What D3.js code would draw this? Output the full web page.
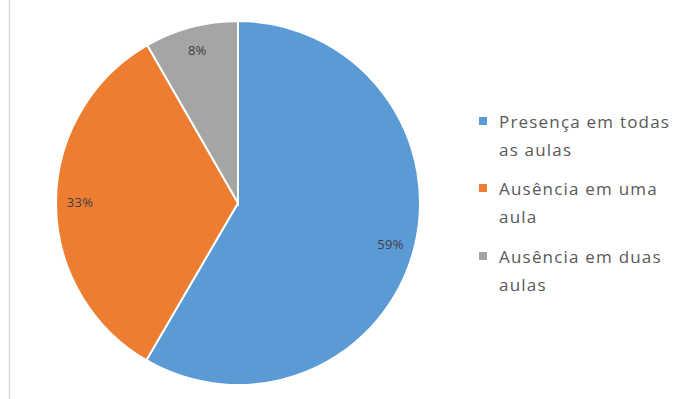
<!DOCTYPE html>
<html lang="en">
<head>
    <meta charset="UTF-8">
    <title>pie</title>
    <script src="https://d3js.org/d3.v7.min.js"></script>
    <style>
        body { margin: 0; background: #fff; }
        text { font-family: 'Open Sans', sans-serif; }
    </style>
</head>
<body>
<div id="chart"></div>
<script>
    // dados
    let categories = ["Presença em todas as aulas", "Ausência em uma aula", "Ausência em duas aulas"];
    let values = [58.4, 33.3, 8.3];
    let labels = ["59%", "33%", "8%"];
    let legendLines = [["Presença em todas", "as aulas"], ["Ausência em uma", "aula"], ["Ausência em duas", "aulas"]];
    let colors = ["#5b9bd5", "#ed7d31", "#a5a5a5"];

    let width = 678, height = 399;
    let cx = 238, cy = 203, radius = 182;

    let svg = d3.select("#chart").append("svg")
        .attr("width", width)
        .attr("height", height);

    // borda esquerda
    svg.append("line")
        .attr("x1", 9.5).attr("x2", 9.5)
        .attr("y1", 0).attr("y2", height)
        .attr("stroke", "#dcdcdc")
        .attr("stroke-width", 1.5);

    let colorScale = d3.scaleOrdinal().domain(categories).range(colors);

    let pie = d3.pie().sort(null).value(d => d.value);
    let data = categories.map((c, i) => ({ name: c, value: values[i], label: labels[i] }));

    let arc = d3.arc().innerRadius(0).outerRadius(radius);
    let labelArc = d3.arc().innerRadius(158).outerRadius(158);

    let g = svg.append("g").attr("transform", "translate(" + cx + "," + cy + ")");

    let slices = g.selectAll(".arc")
        .data(pie(data))
        .enter().append("g")
        .attr("class", "arc");

    slices.append("path")
        .attr("d", arc)
        .attr("fill", d => colorScale(d.data.name))
        .attr("stroke", "#fff")
        .attr("stroke-width", 2);

    slices.append("text")
        .attr("transform", d => "translate(" + labelArc.centroid(d) + ")")
        .attr("text-anchor", "middle")
        .attr("dy", "0.35em")
        .attr("font-size", 13)
        .attr("letter-spacing", 0.3)
        .attr("fill", "#404040")
        .text(d => d.data.label);

    // legenda
    let legendY = [121, 188, 256];
    let legend = svg.selectAll(".legend")
        .data(data)
        .enter().append("g")
        .attr("class", "legend")
        .attr("transform", (d, i) => "translate(479," + legendY[i] + ")");

    legend.append("rect")
        .attr("x", 0).attr("y", -4)
        .attr("width", 8).attr("height", 8)
        .attr("fill", d => colorScale(d.name));

    legend.append("text")
        .attr("font-size", 17)
        .attr("letter-spacing", 1.2)
        .attr("fill", "#595959")
        .selectAll("tspan")
        .data((d, i) => legendLines[i])
        .enter().append("tspan")
        .attr("x", 20)
        .attr("y", (d, j) => 7 + j * 28)
        .text(d => d);
</script>
</body>
</html>
